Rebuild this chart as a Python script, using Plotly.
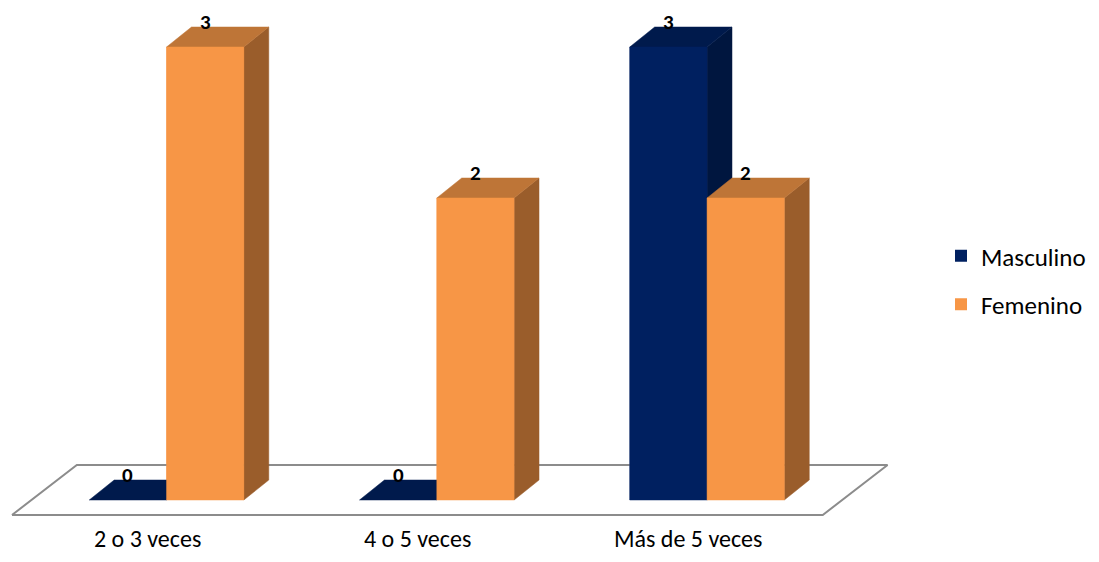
import plotly.graph_objects as go

# ---------------- data ----------------
categories = ["2 o 3 veces", "4 o 5 veces", "Más de 5 veces"]
series_names = ["Masculino", "Femenino"]
masculino = [0, 0, 3]
femenino = [3, 2, 2]
series_values = [masculino, femenino]

# ---------------- styling ----------------
# page body has an 8px margin, so the figure is sized to fit inside the window
PAGE_M = 8
W, H = 1099 - 2 * PAGE_M, 562 - 2 * PAGE_M
PX_PER_CAT = 271.0
PX_PER_VAL = 151.0
X0_PX = 167.0 - PAGE_M   # pixel of first category centre
Y0_PX = 500.0 - PAGE_M   # pixel of value 0

bar_w = 77.5 / PX_PER_CAT
dx = 25.0 / PX_PER_CAT
dy = 20.0 / PX_PER_VAL

front_cols = ["#002060", "#F79646"]
top_cols = ["#001A4C", "#BE7537"]
side_cols = ["#00163F", "#9A5D2B"]

# floor (depth offsets relative to bar front face)
floor_front_dx, floor_front_dy = -19.5 / PX_PER_CAT, -15.0 / PX_PER_VAL
floor_back_dx, floor_back_dy = 45.5 / PX_PER_CAT, 35.0 / PX_PER_VAL

FONT = "Carlito, Calibri, Lato, sans-serif"

fig = go.Figure()

n = len(categories)
# floor outline
fl = -0.5
fr = n - 0.5
fig.add_trace(go.Scatter(
    x=[fl + floor_front_dx, fr + floor_front_dx, fr + floor_back_dx, fl + floor_back_dx, fl + floor_front_dx],
    y=[floor_front_dy, floor_front_dy, floor_back_dy, floor_back_dy, floor_front_dy],
    mode="lines", line=dict(color="#8C8C8C", width=2), showlegend=False, hoverinfo="skip"))

# legend / base bars
offsets = [-0.5, 0.5]
for s, name in enumerate(series_names):
    fig.add_trace(go.Bar(
        x=[i + offsets[s] * bar_w for i in range(n)], y=series_values[s], width=bar_w,
        name=name, marker=dict(color=front_cols[s], line=dict(width=0)),
        legendgroup=name, hoverinfo="skip"))


def poly(xs, ys, color):
    fig.add_trace(go.Scatter(x=xs + [xs[0]], y=ys + [ys[0]], mode="lines", fill="toself",
                             fillcolor=color, line=dict(color=color, width=0.5),
                             showlegend=False, hoverinfo="skip"))


# 3D faces, drawn back to front per group
for i in range(n):
    for s in range(len(series_names)):
        v = series_values[s][i]
        xc = i + offsets[s] * bar_w
        xl, xr = xc - bar_w / 2, xc + bar_w / 2
        if v > 0:
            poly([xr, xr + dx, xr + dx, xr], [0, dy, v + dy, v], side_cols[s])
        poly([xl, xr, xr + dx, xl + dx], [v, v, v + dy, v + dy], top_cols[s])
        if v > 0:
            poly([xl, xr, xr, xl], [0, 0, v, v], front_cols[s])

annotations = []
# data labels
for s in range(len(series_names)):
    for i in range(n):
        v = series_values[s][i]
        xc = i + offsets[s] * bar_w
        annotations.append(dict(x=xc, y=v + dy, text=f"<b>{v}</b>", showarrow=False,
                                xanchor="center", yanchor="bottom", yshift=-9, borderpad=0,
                                font=dict(family=FONT, size=21, color="#000000")))
# category labels
for i, c in enumerate(categories):
    annotations.append(dict(x=i + floor_front_dx, y=0, yref="paper", text=c,
                            showarrow=False, xanchor="center", yanchor="bottom", borderpad=0,
                            font=dict(family=FONT, size=24, color="#000000")))

fig.update_layout(
    width=W, height=H, autosize=False,
    margin=dict(l=0, r=0, t=0, b=0),
    paper_bgcolor="white", plot_bgcolor="white",
    barmode="overlay",
    xaxis=dict(range=[-X0_PX / PX_PER_CAT, (W - X0_PX) / PX_PER_CAT], visible=False, fixedrange=True),
    yaxis=dict(range=[-(H - Y0_PX) / PX_PER_VAL, Y0_PX / PX_PER_VAL], visible=False, fixedrange=True),
    showlegend=True,
    legend=dict(x=(944 - PAGE_M) / W, y=1 - (280 - PAGE_M) / H, xanchor="left", yanchor="middle",
                font=dict(family=FONT, size=25, color="#000000"),
                tracegroupgap=13, bgcolor="rgba(0,0,0,0)"),
    annotations=annotations,
)

fig.write_html("out.html")
